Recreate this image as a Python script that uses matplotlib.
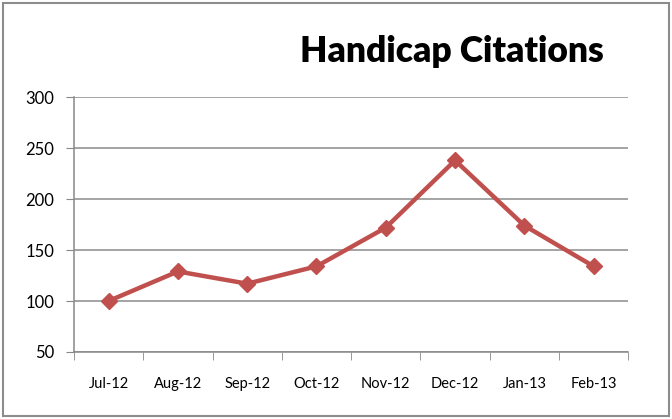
import numpy as np
import matplotlib
matplotlib.use('Agg')
import matplotlib.pyplot as plt
from matplotlib.patches import Rectangle

months = ['Jul-12', 'Aug-12', 'Sep-12', 'Oct-12', 'Nov-12', 'Dec-12', 'Jan-13', 'Feb-13']
citations = [100, 129, 117, 134, 172, 238, 174, 134]
y_ticks = [50, 100, 150, 200, 250, 300]

plt.rcParams['font.family'] = ['Lato', 'DejaVu Sans']

fig = plt.figure(figsize=(6.72, 4.19), dpi=100)
ax = fig.add_axes([0.110, 0.160, 0.825, 0.608])

x = np.arange(len(months))
ax.plot(x, citations, color='#C0504D', lw=3.2, marker='D', markersize=8,
        markerfacecolor='#C0504D', markeredgecolor='#C0504D', zorder=3)

ax.set_xlim(-0.5, len(months) - 0.5)
ax.set_ylim(50, 300)
ax.set_yticks(y_ticks)
ax.set_yticklabels([str(v) for v in y_ticks], fontsize=12)
ax.set_xticks(x)
ax.set_xticklabels(months, fontsize=10.5)
ax.tick_params(axis='x', length=0, pad=18)
ax.set_xticks(np.arange(-0.5, len(months)), minor=True)
ax.tick_params(axis='x', which='minor', length=6, color='#888888', direction='out')
ax.tick_params(axis='y', length=6, color='#888888', pad=8)

ax.grid(axis='y', color='#8c8c8c', lw=1.1)
ax.set_axisbelow(True)
for side in ['top', 'right']:
    ax.spines[side].set_visible(False)
for side in ['left', 'bottom']:
    ax.spines[side].set_color('#888888')
    ax.spines[side].set_linewidth(1.1)

fig.text(0.672, 0.877, 'Handicap Citations', fontsize=25.5, fontweight='heavy',
         ha='center', va='center')

fig.patches.append(Rectangle((0.004, 0.006), 0.992, 0.988, transform=fig.transFigure,
                             fill=False, edgecolor='#8c8c8c', lw=1.5))

fig.savefig('out.png', dpi=100)
